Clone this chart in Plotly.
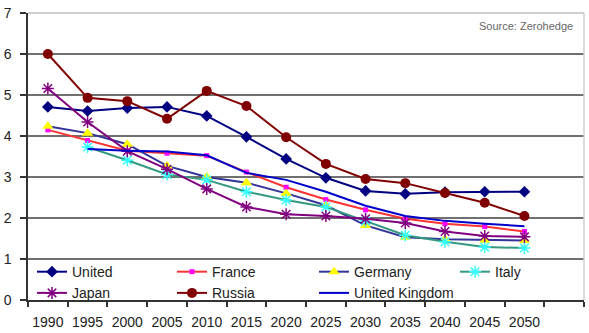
import plotly.graph_objects as go

years = [1990, 1995, 2000, 2005, 2010, 2015, 2020, 2025, 2030, 2035, 2040, 2045, 2050]
year_labels = [str(y) for y in years]

united = [4.71, 4.61, 4.68, 4.71, 4.49, 3.98, 3.44, 2.98, 2.66, 2.59, 2.63, 2.64, 2.64]
france = [4.15, 3.89, 3.64, 3.58, 3.52, 3.12, 2.75, 2.45, 2.20, 1.98, 1.86, 1.79, 1.67]
germany = [4.24, 4.07, 3.80, 3.27, 3.00, 2.86, 2.60, 2.31, 1.82, 1.53, 1.48, 1.46, 1.45]
italy = [None, 3.73, 3.41, 3.06, 2.93, 2.64, 2.44, 2.27, 1.92, 1.58, 1.42, 1.29, 1.27]
japan = [5.16, 4.34, 3.63, 3.19, 2.71, 2.27, 2.09, 2.05, 1.98, 1.88, 1.67, 1.56, 1.54]
russia = [6.00, 4.93, 4.85, 4.42, 5.10, 4.73, 3.97, 3.32, 2.95, 2.85, 2.61, 2.37, 2.05]
uk = [None, 3.68, 3.64, 3.62, 3.53, 3.10, 2.93, 2.64, 2.30, 2.05, 1.93, 1.86, 1.80]

# (name, values, line colour, marker, legend column)
series = [
    ("United", united, "#000080", dict(symbol="diamond", size=9, color="#000080"), "legend"),
    ("France", france, "#FF3333", dict(symbol="square", size=5, color="#FF00FF"), "legend2"),
    ("Germany", germany, "#333399", dict(symbol="triangle-up", size=10, color="#FFFF00"), "legend3"),
    ("Italy", italy, "#339980", dict(symbol="asterisk-open", size=10, color="#33FFFF",
                                     line=dict(width=1.5, color="#33EEEE")), "legend4"),
    ("Japan", japan, "#800080", dict(symbol="asterisk-open", size=10, color="#800080",
                                     line=dict(width=1.5, color="#800080")), "legend"),
    ("Russia", russia, "#800000", dict(symbol="circle", size=10, color="#800000"), "legend2"),
    ("United Kingdom", uk, "#0000CC", None, "legend3"),
]

fig = go.Figure()
for name, vals, lc, mk, lg in series:
    if mk is None:
        fig.add_trace(go.Scatter(x=years, y=vals, name=name, mode="lines", legend=lg,
                                 line=dict(color=lc, width=2)))
    else:
        fig.add_trace(go.Scatter(x=years, y=vals, name=name, mode="lines+markers", legend=lg,
                                 line=dict(color=lc, width=2), marker=mk))

leg_common = dict(orientation="v", y=0.153, yanchor="top", xanchor="left",
                  bgcolor="rgba(0,0,0,0)", font=dict(size=14, color="#222"),
                  tracegroupgap=0)

fig.update_layout(
    width=589, height=333,
    margin=dict(l=28, r=5, t=13, b=33),
    paper_bgcolor="white", plot_bgcolor="white",
    font=dict(family="Liberation Sans, Arial, sans-serif", size=14, color="#222"),
    showlegend=True,
    legend=dict(x=0.0072, **leg_common),
    legend2=dict(x=0.2590, **leg_common),
    legend3=dict(x=0.5144, **leg_common),
    legend4=dict(x=0.7680, **leg_common),
    xaxis=dict(range=[1987.5, 2057.5], tickvals=years, ticktext=year_labels,
               ticks="", showgrid=False, zeroline=False, showline=True, automargin=False,
               linecolor="#333", linewidth=1.5, ticklabelstandoff=8,
               minor=dict(tick0=1987.5, dtick=5, ticks="outside", ticklen=5,
                          tickcolor="#333", tickwidth=1.5, showgrid=False)),
    yaxis=dict(range=[0, 7], tickvals=[0, 1, 2, 3, 4, 5, 6, 7], showgrid=True,
               gridcolor="#707070", gridwidth=1.5, zeroline=False, showline=True,
               automargin=False,
               linecolor="#333", linewidth=1.5, ticks="outside", ticklen=6,
               tickcolor="#333", tickwidth=1.5, ticklabelstandoff=6),
    shapes=[
        dict(type="rect", xref="paper", yref="paper", x0=0.008, x1=0.91, y0=0.01, y1=0.165,
             fillcolor="white", line=dict(width=0), layer="between"),
        dict(type="line", xref="paper", yref="paper", x0=0, x1=1, y0=1, y1=1,
             line=dict(color="#d0d0d0", width=2), layer="above"),
        dict(type="line", xref="paper", yref="paper", x0=1, x1=1, y0=0, y1=1,
             line=dict(color="#d0d0d0", width=1.5), layer="above"),
    ],
    annotations=[
        dict(text="Source: Zerohedge", xref="paper", yref="paper", x=0.984, y=0.955,
             xanchor="right", yanchor="middle", showarrow=False,
             font=dict(size=11, color="#666")),
    ],
)

fig.write_html("out.html")
